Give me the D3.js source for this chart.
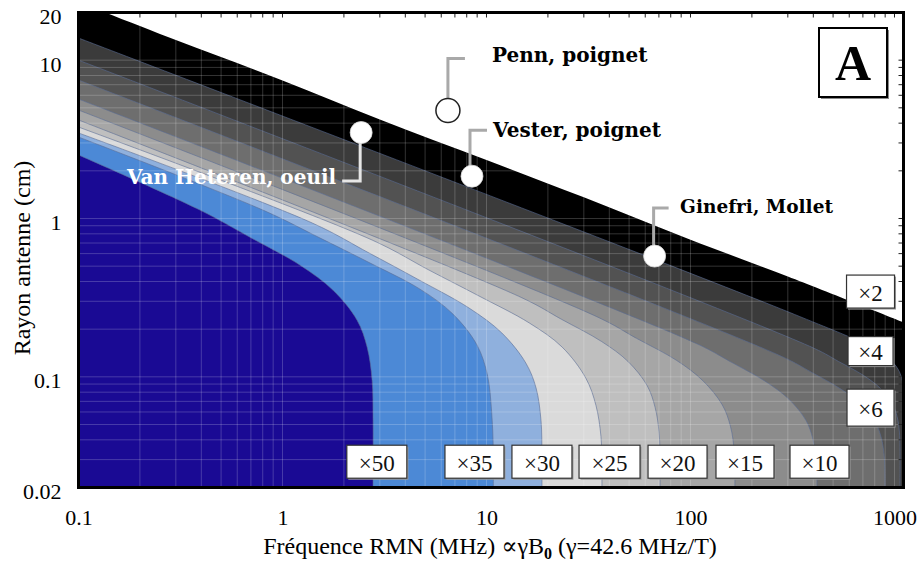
<!DOCTYPE html>
<html>
<head>
<meta charset="utf-8">
<script src="https://cdn.jsdelivr.net/npm/d3@7"></script>
<style>
  html, body { margin: 0; padding: 0; background: #fff; }
  svg { display: block; }
  .serif { font-family: "Liberation Serif", "Times New Roman", Times, "DejaVu Serif", serif; }
  .heavy { font-family: "DejaVu Serif", "Liberation Serif", serif; font-weight: bold; }
</style>
</head>
<body>
<svg id="chart" width="924" height="562"></svg>
<script>
// SNR gain map: coil radius (cm) against NMR frequency (MHz), log-log.

const xTicks = [0.1, 1, 10, 100, 1000];
const yTicks = [0.02, 0.1, 1, 10, 20];

// Upper limit of the mapped domain (white above it)
const domainEdge = [[0.1, 23.3], [0.3, 13.4], [1, 7.45], [3, 4.22], [10, 2.34], [30, 1.36],
  [100, 0.735], [300, 0.43], [1107, 0.221]];

// Iso-gain contours, [frequency MHz, radius cm]
const contourLevels = [2, 4, 6, 10, 15, 20, 25, 30, 35, 50];
const gain2 = [[0.1, 13.8], [344, 0.24], [759, 0.154], [1006, 0.119], [1107, 0.0887], [1190, 0.02]];
const gain4 = [[0.1, 10.0], [401, 0.152], [532, 0.125], [705, 0.102], [849, 0.085], [972, 0.0684],
  [1029, 0.0562], [1058, 0.0442], [1064, 0.02]];
const gain6 = [[0.1, 7.49], [278, 0.135], [391, 0.107], [548, 0.0834], [685, 0.0671], [806, 0.0516],
  [863, 0.0408], [892, 0.0306], [898, 0.02]];
const gain10 = [[0.1, 5.68], [106, 0.163], [158, 0.124], [234, 0.0932], [304, 0.0721], [368, 0.0531],
  [398, 0.0404], [414, 0.0288], [417, 0.02]];
const gain15 = [[0.1, 4.84], [34.7, 0.24], [54.4, 0.175], [85.5, 0.127], [115, 0.0945], [143, 0.0667],
  [157, 0.0487], [164, 0.0332], [165, 0.02]];
const gain20 = [[0.1, 4.19], [14.9, 0.316], [23.3, 0.231], [36.7, 0.167], [49.4, 0.125], [61.3, 0.088],
  [67.1, 0.064], [70.2, 0.044], [70.9, 0.028], [70.9, 0.02]];
const gain25 = [[0.1, 3.78], [2.75, 0.731], [5.23, 0.472], [9.19, 0.324], [16.2, 0.219], [23.5, 0.154],
  [30.7, 0.098], [34.4, 0.066], [36.4, 0.042], [36.8, 0.026], [36.8, 0.02]];
const gain30 = [[0.1, 3.47], [1.4, 0.936], [2.66, 0.605], [4.67, 0.409], [8.21, 0.272], [11.9, 0.189],
  [15.6, 0.122], [17.5, 0.085], [18.5, 0.053], [18.7, 0.032], [18.7, 0.02]];
const gain35 = [[0.1, 3.27], [0.802, 1.13], [1.53, 0.752], [2.69, 0.523], [4.72, 0.358], [6.85, 0.249],
  [8.98, 0.159], [10.1, 0.103], [10.6, 0.06], [10.8, 0.0345], [10.8, 0.02]];
const gain50 = [[0.1, 2.52], [0.394, 1.13], [0.693, 0.761], [1.22, 0.507], [1.77, 0.352], [2.32, 0.228],
  [2.6, 0.154], [2.75, 0.095], [2.78, 0.053], [2.78, 0.02]];
const contourLines = [gain2, gain4, gain6, gain10, gain15, gain20, gain25, gain30, gain35, gain50];

// Published coils
const studyNames = ["Penn, poignet", "Vester, poignet", "Van Heteren, oeuil", "Ginefri, Mollet"];
const studyFreq = [6.47, 8.49, 2.43, 66.7];
const studyRadius = [4.81, 1.85, 3.49, 0.579];

// Contour tags
const tagText = ["\u00d750", "\u00d735", "\u00d730", "\u00d725", "\u00d720", "\u00d715", "\u00d710", "\u00d76", "\u00d74", "\u00d72"];
const tagFreq = [2.9, 8.73, 18.7, 40.1, 86.4, 185, 429, 763, 763, 763];
const tagRadius = [0.0291, 0.0291, 0.0291, 0.0291, 0.0291, 0.0291, 0.0291, 0.0639, 0.1454, 0.3455];

// ---- styles / layout ----
const bandFill = ["#000000", "#3b3b3b", "#525252", "#6e6e6e", "#8c8c8c", "#a6a6a6", "#bfbfbf",
  "#dadada", "#8fb0dd", "#4c89d6", "#1a0a94"];
const tagSize = [[60, 33], [59, 33], [60, 33], [61, 33], [59, 33], [58, 33], [59, 33], [47, 37], [45, 29], [48, 33]];

const L = 78.5, R = 903.5, T = 12.5, B = 487.5;
const x = d3.scaleLog().domain([0.1, 1107]).range([L, R]);
const y = d3.scaleLog().domain([0.02, 20]).range([B, T]);

const svg = d3.select("#chart");
svg.append("rect").attr("width", 924).attr("height", 562).attr("fill", "#fff");

svg.append("defs").append("clipPath").attr("id", "plotArea")
  .append("rect").attr("x", L).attr("y", T).attr("width", R - L).attr("height", B - T);

const plot = svg.append("g").attr("clip-path", "url(#plotArea)");
plot.append("rect").attr("x", L).attr("y", T).attr("width", R - L).attr("height", B - T).attr("fill", "#fff");

const curve = d3.line().x(d => x(d[0])).y(d => y(d[1])).curve(d3.curveCatmullRom.alpha(0.5));

function region(pts) {
  const last = pts[pts.length - 1];
  return curve(pts) + "L" + x(last[0]) + "," + y(0.02) + "L" + x(0.1) + "," + y(0.02) + "Z";
}

const boundaries = [domainEdge].concat(contourLines);
plot.selectAll("path.band").data(boundaries).join("path")
  .attr("class", "band")
  .attr("d", region)
  .attr("fill", (d, i) => bandFill[i]);

plot.selectAll("path.iso").data(contourLines).join("path")
  .attr("class", "iso")
  .attr("d", curve)
  .attr("fill", "none")
  .attr("stroke", "#5a6d95")
  .attr("stroke-width", 0.8)
  .attr("stroke-opacity", 0.75);

// grid
const gx = x.ticks(), gy = y.ticks();
plot.selectAll("line.gx").data(gx).join("line")
  .attr("x1", d => x(d)).attr("x2", d => x(d)).attr("y1", T).attr("y2", B)
  .attr("stroke", "#fff").attr("stroke-opacity", 0.2).attr("stroke-width", 1);
plot.selectAll("line.gy").data(gy).join("line")
  .attr("y1", d => y(d)).attr("y2", d => y(d)).attr("x1", L).attr("x2", R)
  .attr("stroke", "#fff").attr("stroke-opacity", 0.2).attr("stroke-width", 1);

// inner minor ticks on top and right borders
svg.selectAll("line.tt").data(gx).join("line")
  .attr("x1", d => x(d)).attr("x2", d => x(d)).attr("y1", T).attr("y2", T + 5)
  .attr("stroke", "#222").attr("stroke-width", 1);
svg.selectAll("line.tr").data(gy).join("line")
  .attr("y1", d => y(d)).attr("y2", d => y(d)).attr("x1", R - 5).attr("x2", R)
  .attr("stroke", "#222").attr("stroke-width", 1);

// frame
svg.append("rect").attr("x", L).attr("y", T).attr("width", R - L).attr("height", B - T)
  .attr("fill", "none").attr("stroke", "#000").attr("stroke-width", 3);

// axes
const fmt = d3.format("~g");
const xAxis = svg.append("g").attr("transform", `translate(0,${B})`)
  .call(d3.axisBottom(x).tickValues(xTicks).tickSize(0).tickPadding(22).tickFormat(fmt));
xAxis.attr("font-family", null).attr("font-size", null);
xAxis.select(".domain").remove();
xAxis.selectAll("text").attr("class", "serif").style("font-size", "22px").attr("fill", "#000");

const yAxis = svg.append("g").attr("transform", `translate(${L},0)`)
  .call(d3.axisLeft(y).tickValues(yTicks).tickSize(0).tickPadding(17).tickFormat(fmt));
yAxis.attr("font-family", null).attr("font-size", null);
yAxis.select(".domain").remove();
yAxis.selectAll("text").attr("class", "serif").style("font-size", "22px").attr("fill", "#000").attr("dy", "0.5em");

// axis titles
const xt = svg.append("text").attr("class", "serif").attr("x", 490).attr("y", 554)
  .attr("text-anchor", "middle").style("font-size", "24px").attr("fill", "#000");
xt.append("tspan").text("Fr\u00e9quence RMN (MHz) \u221d\u03b3B");
xt.append("tspan").attr("dy", 5).style("font-size", "16px").style("font-weight", "bold").text("0");
xt.append("tspan").attr("dy", -5).text(" (\u03b3=42.6 MHz/T)");

svg.append("text").attr("class", "serif").attr("transform", "translate(30,258) rotate(-90)")
  .attr("text-anchor", "middle").style("font-size", "24px").attr("fill", "#000")
  .text("Rayon antenne (cm)");

// panel letter
svg.append("rect").attr("x", 821).attr("y", 30).attr("width", 68).attr("height", 69).attr("fill", "#8a8a8a");
svg.append("rect").attr("x", 819).attr("y", 28).attr("width", 68).attr("height", 69)
  .attr("fill", "#fff").attr("stroke", "#000").attr("stroke-width", 2);
svg.append("text").attr("class", "serif").attr("x", 853).attr("y", 80).attr("text-anchor", "middle")
  .style("font-weight", "bold").style("font-size", "50px").text("A");

// contour tags
const tags = svg.selectAll("g.tag").data(tagText).join("g").attr("class", "tag")
  .attr("transform", (d, i) => `translate(${x(tagFreq[i])},${y(tagRadius[i])})`);
tags.append("rect")
  .attr("x", (d, i) => -tagSize[i][0] / 2 + 1.5).attr("y", (d, i) => -tagSize[i][1] / 2 + 1.5)
  .attr("width", (d, i) => tagSize[i][0]).attr("height", (d, i) => tagSize[i][1])
  .attr("fill", "#9a9a9a");
tags.append("rect")
  .attr("x", (d, i) => -tagSize[i][0] / 2).attr("y", (d, i) => -tagSize[i][1] / 2)
  .attr("width", (d, i) => tagSize[i][0]).attr("height", (d, i) => tagSize[i][1])
  .attr("fill", "#fff").attr("stroke", "#333").attr("stroke-width", 1.2);
tags.append("text").attr("class", "serif").attr("text-anchor", "middle").attr("y", 9)
  .style("font-size", "23px").attr("fill", "#111").text(d => d);

// study markers with leaders
const leader = [
  { path: [[0, -12], [0, -52], [17, -52]], tx: 44, ty: -48, anchor: "start", color: "#a9a9a9", text: "#000", size: 20 },
  { path: [[-2, -10], [-2, -46], [15, -46]], tx: 21, ty: -39, anchor: "start", color: "#a9a9a9", text: "#000", size: 20 },
  { path: [[-1, 10], [-1, 48.5], [-19, 48.5]], tx: -25, ty: 51.5, anchor: "end", color: "#e6e6e6", text: "#fff", size: 20 },
  { path: [[-1, -10], [-1, -48], [14, -48]], tx: 25.5, ty: -43, anchor: "start", color: "#a9a9a9", text: "#000", size: 18.5 }
];
studyNames.forEach((name, i) => {
  const cx = x(studyFreq[i]), cy = y(studyRadius[i]);
  const s = leader[i];
  svg.append("path")
    .attr("d", d3.line()(s.path.map(p => [cx + p[0], cy + p[1]])))
    .attr("fill", "none").attr("stroke", s.color).attr("stroke-width", 3);
  svg.append("circle").attr("cx", cx).attr("cy", cy).attr("r", i === 0 ? 12 : 11)
    .attr("fill", "#fff")
    .attr("stroke", i === 0 ? "#222" : "#d8d8d8")
    .attr("stroke-width", i === 0 ? 1.5 : 0.8);
  svg.append("text").attr("class", "heavy").attr("x", cx + s.tx).attr("y", cy + s.ty)
    .attr("text-anchor", s.anchor).style("font-size", s.size + "px")
    .attr("fill", s.text).text(name);
});
</script>
</body>
</html>
